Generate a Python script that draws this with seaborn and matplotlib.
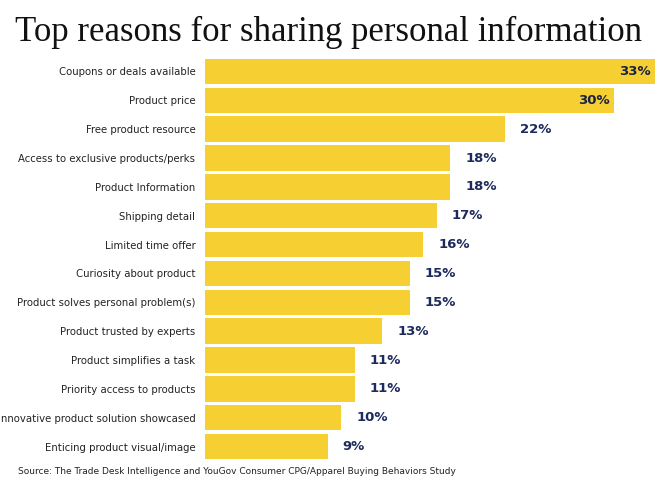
import matplotlib
matplotlib.use("Agg")
import matplotlib.pyplot as plt
import seaborn as sns
import pandas as pd

reasons = [
    "Coupons or deals available", "Product price", "Free product resource",
    "Access to exclusive products/perks", "Product Information", "Shipping detail",
    "Limited time offer", "Curiosity about product", "Product solves personal problem(s)",
    "Product trusted by experts", "Product simplifies a task", "Priority access to products",
    "Innovative product solution showcased", "Enticing product visual/image",
]
values = [33, 30, 22, 18, 18, 17, 16, 15, 15, 13, 11, 11, 10, 9]

df = pd.DataFrame({"reason": reasons, "value": values})

fig = plt.figure(figsize=(6.70, 4.92), dpi=100)
ax = fig.add_axes([205 / 670, 1 - 461 / 492, 450 / 670, 404 / 492])
sns.barplot(data=df, x="value", y="reason", color="#F6CF33", saturation=1,
            width=0.88, ax=ax)
ax.set_xlim(0, 33)
ax.set_ylim(13.5, -0.5)
ax.set_xlabel("")
ax.set_ylabel("")
ax.set_xticks([])
for s in ax.spines.values():
    s.set_visible(False)
ax.tick_params(axis="y", length=0, pad=7, labelsize=7.3, labelcolor="#222222")

for i, v in enumerate(values):
    if v >= 30:
        ax.text(v - 0.3, i, f"{v}%", ha="right", va="center", fontsize=9.5,
                fontweight="bold", color="#1c2340")
    else:
        ax.text(v + 1.1, i, f"{v}%", ha="left", va="center", fontsize=9.5,
                fontweight="bold", color="#1c2a5c")

fig.text(0.49, 1 - 32 / 492, "Top reasons for sharing personal information",
         ha="center", va="center", fontsize=25, family="Liberation Serif",
         color="#111111")
fig.text(18 / 670, 1 - 472 / 492,
         "Source: The Trade Desk Intelligence and YouGov Consumer CPG/Apparel Buying Behaviors Study",
         ha="left", va="center", fontsize=6.5, color="#222222")

fig.savefig("out.png", dpi=100)
